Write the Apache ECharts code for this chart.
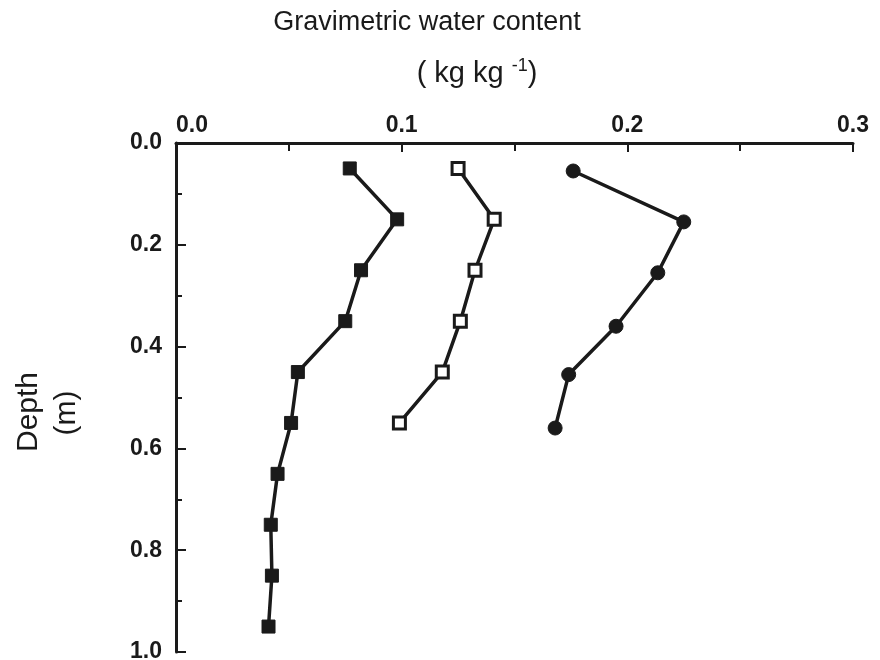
<!DOCTYPE html>
<html><head><meta charset="utf-8">
<script src="https://cdn.jsdelivr.net/npm/echarts@6/dist/echarts.min.js"></script>
<style>html,body{margin:0;padding:0;background:#fff}#c{width:880px;height:660px}</style>
</head><body><div id="c"></div>
<script>
const depthsA = [0.05,0.15,0.25,0.35,0.45,0.55,0.65,0.75,0.85,0.95];
const waterA  = [0.077,0.098,0.082,0.075,0.054,0.051,0.045,0.042,0.0425,0.041];
const depthsB = [0.05,0.15,0.25,0.35,0.45,0.55];
const waterB  = [0.125,0.141,0.1325,0.126,0.118,0.099];
const depthsC = [0.055,0.155,0.255,0.36,0.455,0.56];
const waterC  = [0.176,0.225,0.2135,0.195,0.174,0.168];
const xTicks = ['0.0','0.1','0.2','0.3'];
const yTicks = ['0.0','0.2','0.4','0.6','0.8','1.0'];

const ink = '#1a1a1a';
const font = 'Liberation Sans, Arial, Helvetica, sans-serif';
function pairs(xs, ys){ return xs.map((x,i)=>[x, ys[i]]); }

const chart = echarts.init(document.getElementById('c'), null, {renderer:'canvas'});
chart.setOption({
  animation:false,
  backgroundColor:'#fff',
  grid:{left:176, right:27, top:143, bottom:8, containLabel:false, outerBoundsMode:'none'},
  graphic:[
    {type:'text', x:427, y:23, style:{text:'Gravimetric water content', fill:ink, font:'27px '+font, textAlign:'center', textVerticalAlign:'middle'}},
    {type:'text', x:477, y:74, style:{
      text:'{a|( kg kg }{s|-1}{a|)}', textAlign:'center', textVerticalAlign:'middle',
      rich:{a:{fontSize:29, fontFamily:font, fill:ink, color:ink}, s:{fontSize:18, fontFamily:font, color:ink, fill:ink, padding:[0,0,15,0]}}
    }},
    {type:'text', x:29, y:412, rotation:Math.PI/2, style:{text:'Depth', fill:ink, font:'30px '+font, textAlign:'center', textVerticalAlign:'middle'}},
    {type:'text', x:67, y:413, rotation:Math.PI/2, style:{text:'(m)', fill:ink, font:'30px '+font, textAlign:'center', textVerticalAlign:'middle'}}
  ],
  xAxis:{
    type:'value', position:'top', min:0, max:0.3, interval:0.1,
    axisLine:{show:true, onZero:false, lineStyle:{color:ink, width:3}},
    axisTick:{show:true, inside:true, length:9, lineStyle:{color:ink, width:2}},
    minorTick:{show:true, splitNumber:2, length:8, lineStyle:{color:ink, width:2}},
    splitLine:{show:false},
    axisLabel:{margin:6, fontSize:23, fontWeight:'bold', fontFamily:font, color:ink,
      alignMinLabel:'left',
      formatter:(v)=>xTicks[Math.round(v*10)]}
  },
  yAxis:{
    type:'value', inverse:true, min:0, max:1, interval:0.2,
    axisLine:{show:true, onZero:false, lineStyle:{color:ink, width:3}},
    axisTick:{show:true, inside:true, length:10, lineStyle:{color:ink, width:2}},
    minorTick:{show:true, splitNumber:2, length:6, lineStyle:{color:ink, width:2}},
    splitLine:{show:false},
    axisLabel:{margin:14, fontSize:23, fontWeight:'bold', fontFamily:font, color:ink,
      formatter:(v)=>yTicks[Math.round(v*5)]}
  },
  series:[
    {type:'line', data:pairs(waterA, depthsA), symbol:'rect', symbolSize:13,
     lineStyle:{color:ink, width:3.5}, itemStyle:{color:ink, borderColor:ink, borderWidth:1}},
    {type:'line', data:pairs(waterB, depthsB), symbol:'rect', symbolSize:12,
     lineStyle:{color:ink, width:3.5}, itemStyle:{color:'#fff', borderColor:ink, borderWidth:3}},
    {type:'line', data:pairs(waterC, depthsC), symbol:'circle', symbolSize:14,
     lineStyle:{color:ink, width:3.5}, itemStyle:{color:ink, borderColor:ink, borderWidth:1}}
  ]
});
</script></body></html>
